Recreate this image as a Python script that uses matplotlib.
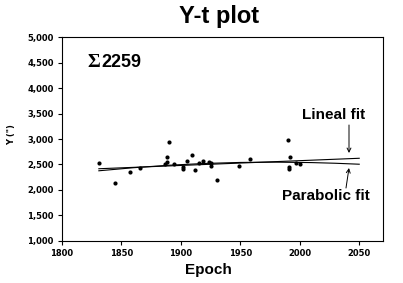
import matplotlib
matplotlib.use("Agg")
import matplotlib.pyplot as plt
from matplotlib.ticker import FuncFormatter

# observed pairs (epoch, Y)
epochs = [1831, 1844.5, 1857, 1866, 1890, 1888, 1888, 1887, 1894, 1902, 1902,
          1905, 1909, 1912, 1915, 1919, 1924, 1925, 1925, 1930, 1949, 1958,
          1990, 1992, 1991, 1991, 1997, 2000]
y_vals = [2534, 2129, 2357, 2436, 2941, 2652, 2554, 2509, 2503, 2456, 2410,
          2568, 2692, 2391, 2534, 2568, 2554, 2522, 2469, 2194, 2469, 2607,
          2981, 2652, 2456, 2416, 2534, 2503]

# fit curves
lin_years = [1831, 2050]
lin_vals = [2415, 2621]
par_years = [1831, 1860, 1890, 1920, 1950, 1980, 2010, 2030, 2050]
par_vals = [2375, 2435, 2484, 2519, 2539, 2545, 2536, 2523, 2504]

x_ticks = [1800, 1850, 1900, 1950, 2000, 2050]
y_ticks = [1000, 1500, 2000, 2500, 3000, 3500, 4000, 4500, 5000]

W, H = 403, 283
fig = plt.figure(figsize=(W / 100, H / 100), dpi=100)
ax = fig.add_axes([62 / W, 1 - 240.7 / H, 321 / W, 203.4 / H])

ax.plot(epochs, y_vals, 'o', color='black', markersize=3, markeredgewidth=0)
ax.plot(lin_years, lin_vals, color='black', linewidth=0.8)
ax.plot(par_years, par_vals, color='black', linewidth=0.8)

ax.set_xlim(1800, 2070)
ax.set_ylim(1000, 5000)
ax.set_xticks(x_ticks)
ax.set_yticks(y_ticks)
ax.yaxis.set_major_formatter(FuncFormatter(lambda v, p: f'{int(v):,}'))
ax.tick_params(direction='out', length=3, width=0.8, pad=3, labelsize=6)
for lab in ax.get_xticklabels() + ax.get_yticklabels():
    lab.set_fontweight('bold')
for sp in ax.spines.values():
    sp.set_linewidth(0.8)

sans = 'Liberation Sans'
fig.text(219 / W, 1 - 17 / H, 'Y-t plot', fontsize=17, fontweight='bold',
         family=sans, ha='center', va='center')
fig.text(208 / W, 1 - 270 / H, 'Epoch', fontsize=11, fontweight='bold',
         family=sans, ha='center', va='center')
fig.text(12 / W, 1 - 135 / H, 'Y (")', fontsize=6, fontweight='bold',
         rotation=90, ha='center', va='center')

fig.text(87 / W, 1 - 67 / H, 'Σ', fontsize=14, fontweight='bold',
         family='Liberation Serif', ha='left', va='baseline')
fig.text(101 / W, 1 - 67 / H, '2259', fontsize=13, fontweight='bold',
         family=sans, ha='left', va='baseline')

fig.text(334 / W, 1 - 115 / H, 'Lineal fit', fontsize=11, fontweight='bold',
         family=sans, ha='center', va='center')
fig.text(326 / W, 1 - 196 / H, 'Parabolic fit', fontsize=11, fontweight='bold',
         family=sans, ha='center', va='center')


def fig_xy(px, py):
    return (px / W, 1 - py / H)


arrow = dict(arrowstyle='->', color='black', lw=0.7, shrinkA=0, shrinkB=0,
             mutation_scale=7)
ax.annotate('', xy=fig_xy(349, 153), xytext=fig_xy(349, 125),
            xycoords='figure fraction', textcoords='figure fraction',
            arrowprops=arrow)
ax.annotate('', xy=fig_xy(349, 168), xytext=fig_xy(346, 188),
            xycoords='figure fraction', textcoords='figure fraction',
            arrowprops=arrow)

fig.savefig('out.png', dpi=100)
